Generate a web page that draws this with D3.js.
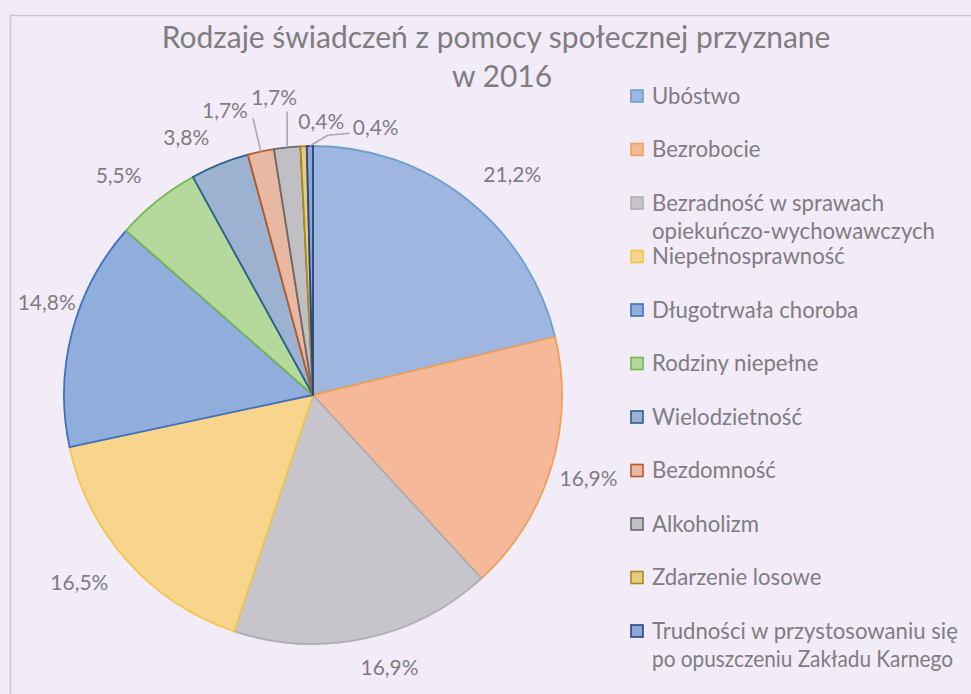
<!DOCTYPE html>
<html><head><meta charset="utf-8">
<script src="https://cdn.jsdelivr.net/npm/d3@7"></script>
<style>html,body{margin:0;padding:0;background:#F2EBF8;overflow:hidden}</style>
</head><body><svg id="c" width="971" height="694"></svg>
<script>
// ---- data ----
const titleLines = ["Rodzaje świadczeń z pomocy społecznej przyznane", "w 2016"];
const categories = [
  "Ubóstwo",
  "Bezrobocie",
  "Bezradność w sprawach opiekuńczo-wychowawczych",
  "Niepełnosprawność",
  "Długotrwała choroba",
  "Rodziny niepełne",
  "Wielodzietność",
  "Bezdomność",
  "Alkoholizm",
  "Zdarzenie losowe",
  "Trudności w przystosowaniu się po opuszczeniu Zakładu Karnego"
];
const values = [21.2, 16.9, 16.9, 16.5, 14.8, 5.5, 3.8, 1.7, 1.7, 0.4, 0.4];

// ---- styles ----
const fills   = ["#9FB7E0","#F5B999","#C6C5CC","#F8D58C","#90AEDC","#B5D89D","#9DB1D0","#E9B8A2","#C0BFC4","#E3CD7E","#8FA7D6"];
const strokes = ["#6C9FCC","#EFA05A","#AEADB2","#F2C64A","#3F6FC0","#76B552","#2D5E8E","#B95B28","#6B6B6E","#A88A22","#27457C"];
const textColor = "#7E7D82";
const fontFam = "Lato, 'Open Sans', sans-serif";

const svg = d3.select("#c");
svg.append("rect").attr("width",971).attr("height",694).attr("fill","#F2EBF8");
svg.append("rect").attr("x",10.5).attr("y",15.5).attr("width",1200).attr("height",1000)
  .attr("fill","none").attr("stroke","#CAC5CE").attr("stroke-width",1.5);

function fitText(sel, target){
  const w = sel.node().getComputedTextLength();
  const fs = parseFloat(sel.attr("font-size"));
  sel.attr("font-size", fs*target/w);
}

// ---- title ----
const t1 = svg.append("text").attr("x",496).attr("y",48).attr("text-anchor","middle")
  .attr("font-family",fontFam).attr("font-size",28).attr("fill",textColor).text(titleLines[0]);
fitText(t1, 669);
const tfs = parseFloat(t1.attr("font-size"));
svg.append("text").attr("x",502).attr("y",87).attr("text-anchor","middle")
  .attr("font-family",fontFam).attr("font-size",tfs).attr("fill",textColor).text(titleLines[1]);

// ---- pie ----
const cx = 313, cy = 395, R = 249;
const g = svg.append("g").attr("transform",`translate(${cx},${cy})`);
const pie = d3.pie().sort(null).value(d=>d);
const arcs = pie(values);
const arc = d3.arc().innerRadius(0).outerRadius(R);
const edge = d3.arc().innerRadius(R).outerRadius(R);

g.selectAll("path.slice").data(arcs).join("path").attr("class","slice")
  .attr("d",arc).attr("fill",(d,i)=>fills[i]).attr("stroke",(d,i)=>strokes[i])
  .attr("stroke-width",1.8).attr("stroke-linejoin","round");

// ---- data labels (Excel best-fit placement: angle shift in degrees, distance beyond the edge) ----
const labelPlace = [[3.9,48],[0,39],[-3.6,34],[3,51],[4.6,33],[-2.8,44],[-4.2,38],[-5.1,49],[-1.5,51],[3.9,24],[13.9,26]];
const fmt = v => v.toFixed(1).replace(".",",") + "%";
const labelPos = arcs.map((d,i)=>{
  const a = (d.startAngle + d.endAngle)/2 + labelPlace[i][0]*Math.PI/180;
  const rr = R + labelPlace[i][1];
  return [rr*Math.sin(a), -rr*Math.cos(a)];
});

// leader lines for the thin slices: offsets from the label centre to where the line leaves it
const leaders = {7:[[28,8]], 8:[[13,14]], 10:[[-26,6],[-48,8]]};
Object.keys(leaders).forEach(k=>{
  const i = +k, p = labelPos[i];
  const pts = leaders[k].map(o=>[p[0]+o[0], p[1]+o[1]]);
  pts.push(edge.centroid(arcs[i]));
  g.append("path").attr("d", d3.line()(pts)).attr("fill","none")
    .attr("stroke","#A9A8AD").attr("stroke-width",1.6);
});

const labs = g.selectAll("text.lab").data(arcs).join("text").attr("class","lab")
  .attr("x",(d,i)=>labelPos[i][0]).attr("y",(d,i)=>labelPos[i][1]).attr("dy","0.35em")
  .attr("text-anchor","middle").attr("font-family",fontFam).attr("font-size",19)
  .attr("fill",textColor).text(d=>fmt(d.data));
fitText(d3.select(labs.nodes()[0]), 58);
const lfs = parseFloat(d3.select(labs.nodes()[0]).attr("font-size"));
labs.attr("font-size", lfs);

// ---- legend ----
const lg = svg.append("g");
const probe = lg.append("text").attr("font-family",fontFam).attr("font-size",20).text("Trudności w przystosowaniu się");
fitText(probe, 306);
const legFs = parseFloat(probe.attr("font-size"));
probe.remove();
const maxW = 312;
// wrap into at most two lines, breaking the first line where it would exceed maxW
function wrap(str){
  const words = str.split(" ");
  const m = lg.append("text").attr("font-family",fontFam).attr("font-size",legFs);
  let cur = "", k = 0;
  for (; k < words.length; k++){
    const test = cur ? cur + " " + words[k] : words[k];
    m.text(test);
    if (m.node().getComputedTextLength() > maxW && cur) break;
    cur = test;
  }
  m.remove();
  const rest = words.slice(k).join(" ");
  return rest ? [cur, rest] : [cur];
}
const ly = d3.scalePoint().domain(d3.range(categories.length)).range([96, 631]);
categories.forEach((c,i)=>{
  const y = ly(i);
  lg.append("rect").attr("x",631).attr("y",y-6).attr("width",12).attr("height",12)
    .attr("fill",fills[i]).attr("stroke",strokes[i]).attr("stroke-width",1.6);
  const lines = wrap(c);
  lines.forEach((ln,j)=>{
    const t = lg.append("text").attr("x",652).attr("y",y + j*28.5).attr("dy","0.35em")
      .attr("font-family",fontFam).attr("font-size",legFs).attr("fill",textColor).text(ln);
    if (t.node().getComputedTextLength() > maxW)
      t.attr("textLength", 301).attr("lengthAdjust","spacingAndGlyphs");
  });
});
</script></body></html>
